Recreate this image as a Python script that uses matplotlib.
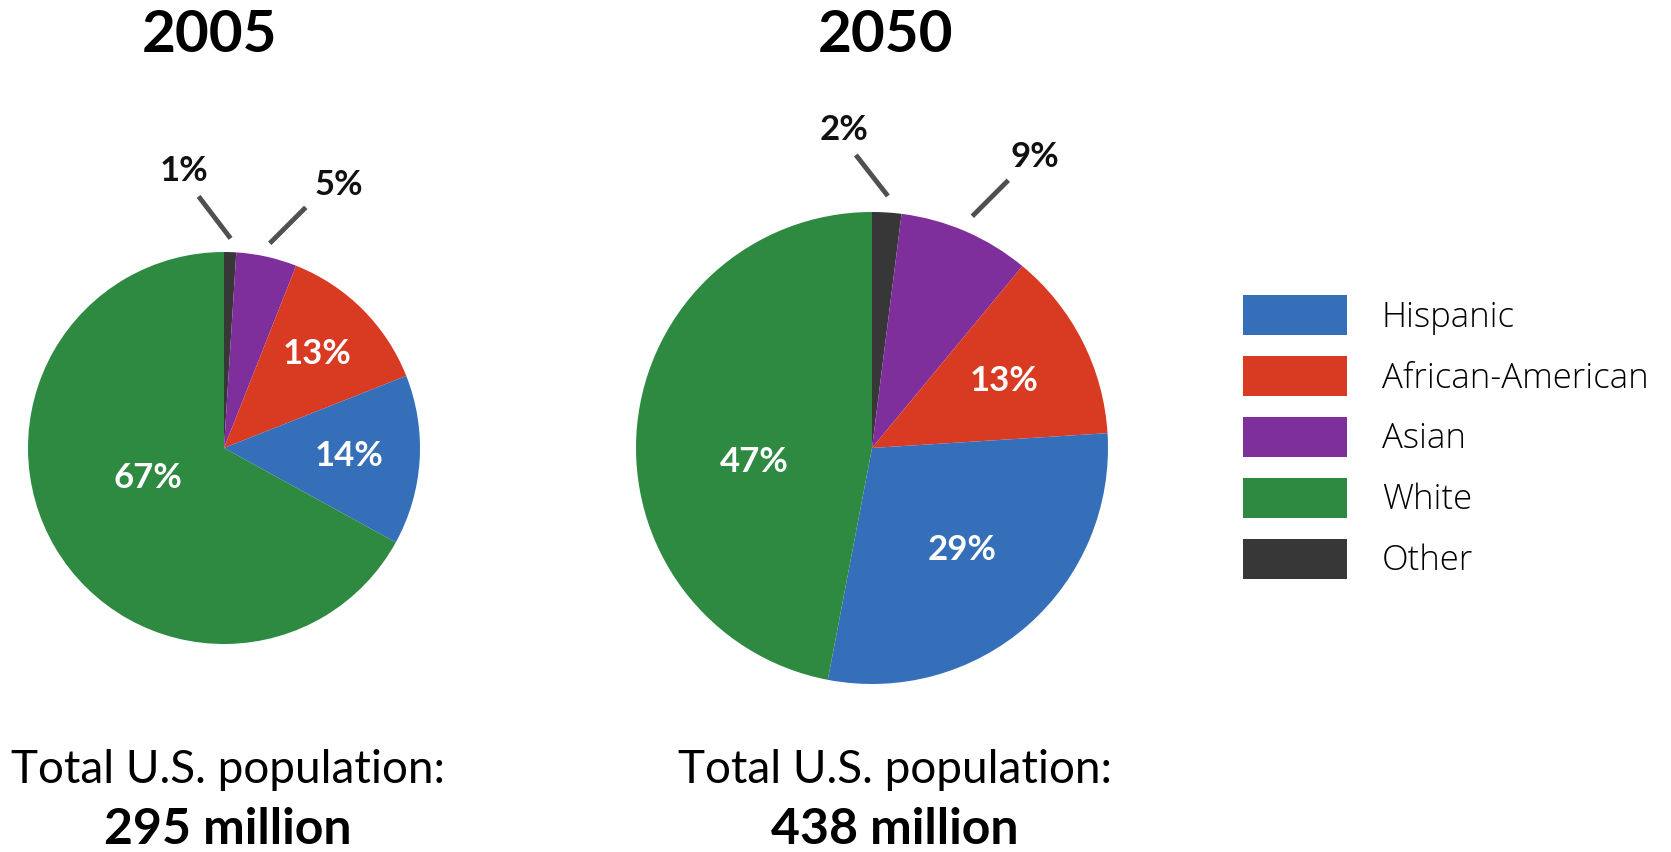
import numpy as np
import matplotlib
matplotlib.use("Agg")
import matplotlib.pyplot as plt

plt.rcParams['font.family'] = ['Lato', 'DejaVu Sans']

# Population composition by group, percent
groups = ["Other", "Asian", "African-American", "Hispanic", "White"]
share_2005 = [1, 5, 13, 14, 67]
share_2050 = [2, 9, 13, 29, 47]
colors = {"Hispanic": "#356EB9", "African-American": "#D93A22", "Asian": "#7E2F9B",
          "White": "#2E8A40", "Other": "#373737"}
legend_order = ["Hispanic", "African-American", "Asian", "White", "Other"]
years = ["2005", "2050"]
totals = ["295 million", "438 million"]

W, H = 1671, 852
fig = plt.figure(figsize=(W / 100, H / 100), dpi=100)
ax = fig.add_axes([0, 0, 1, 1])

# layout of each pie: center (x, y from top), radius, title x, caption x;
# outer labels: (leader line offset, text offset); inner labels: (radius fraction, angle shift)
layouts = [
    dict(cx=224, cy=448, r=196, tx=209, bx=228,
         outer={"Other": ((-32, 42), (-15, 25)), "Asian": ((36, 36), (33, 22))},
         inner={"African-American": (0.675, 0), "Hispanic": (0.64, 0),
                "White": (0.42, -9)}),
    dict(cx=872, cy=448, r=236, tx=885, bx=895,
         outer={"Other": ((-32, 41), (-12, 25)), "Asian": ((36, 36), (27, 23))},
         inner={"African-American": (0.63, 0), "Hispanic": (0.575, 0),
                "White": (0.50, 12)}),
]

all_wedges = []
for shares, year, total, lay in zip([share_2005, share_2050], years, totals, layouts):
    cx, cy, r = lay["cx"], H - lay["cy"], lay["r"]
    wedges, _ = ax.pie(shares, colors=[colors[g] for g in groups], startangle=90,
                       counterclock=False, center=(cx, cy), radius=r,
                       wedgeprops=dict(linewidth=0))
    all_wedges.append(wedges)
    for w, g, v in zip(wedges, groups, shares):
        mid = np.deg2rad((w.theta1 + w.theta2) / 2)
        if g in lay["outer"]:
            (dx, dy), (lx, ly) = lay["outer"][g]
            x0 = cx + 1.07 * r * np.cos(mid)
            y0 = cy + 1.07 * r * np.sin(mid)
            ax.plot([x0, x0 + dx], [y0, y0 + dy], color="#505050", lw=3.5,
                    solid_capstyle="butt")
            ax.text(x0 + dx + lx, y0 + dy + ly, f"{v}%", ha="center", va="center",
                    fontsize=25, fontweight="bold", color="#111111")
        else:
            f, shift = lay["inner"][g]
            a = mid + np.deg2rad(shift)
            ax.text(cx + f * r * np.cos(a), cy + f * r * np.sin(a), f"{v}%",
                    ha="center", va="center", fontsize=25, fontweight="bold",
                    color="white")
    ax.text(lay["tx"], H - 35, year, ha="center", va="center", fontsize=42,
            fontweight="bold", color="black")
    ax.text(lay["bx"], H - 770, "Total U.S. population:", ha="center", va="center",
            fontsize=33, color="black")
    ax.text(lay["bx"], H - 830, total, ha="center", va="center", fontsize=36,
            fontweight="bold", color="black")

# pie() rescales the axes, so fix the pixel-based frame afterwards
ax.set_xlim(0, W)
ax.set_ylim(0, H)
ax.set_aspect("equal")
ax.axis("off")

handles = [all_wedges[1][groups.index(g)] for g in legend_order]
leg = ax.legend(handles, legend_order, loc="upper left",
                bbox_to_anchor=(1243 / W, 1 - 295 / H), frameon=False,
                handlelength=3.0, handleheight=1.4,
                handletextpad=1.0, labelspacing=0.6, borderaxespad=0,
                borderpad=0, prop=dict(family=["Open Sans", "DejaVu Sans"],
                                       weight="light", size=25))

fig.savefig("out.png", dpi=100)
